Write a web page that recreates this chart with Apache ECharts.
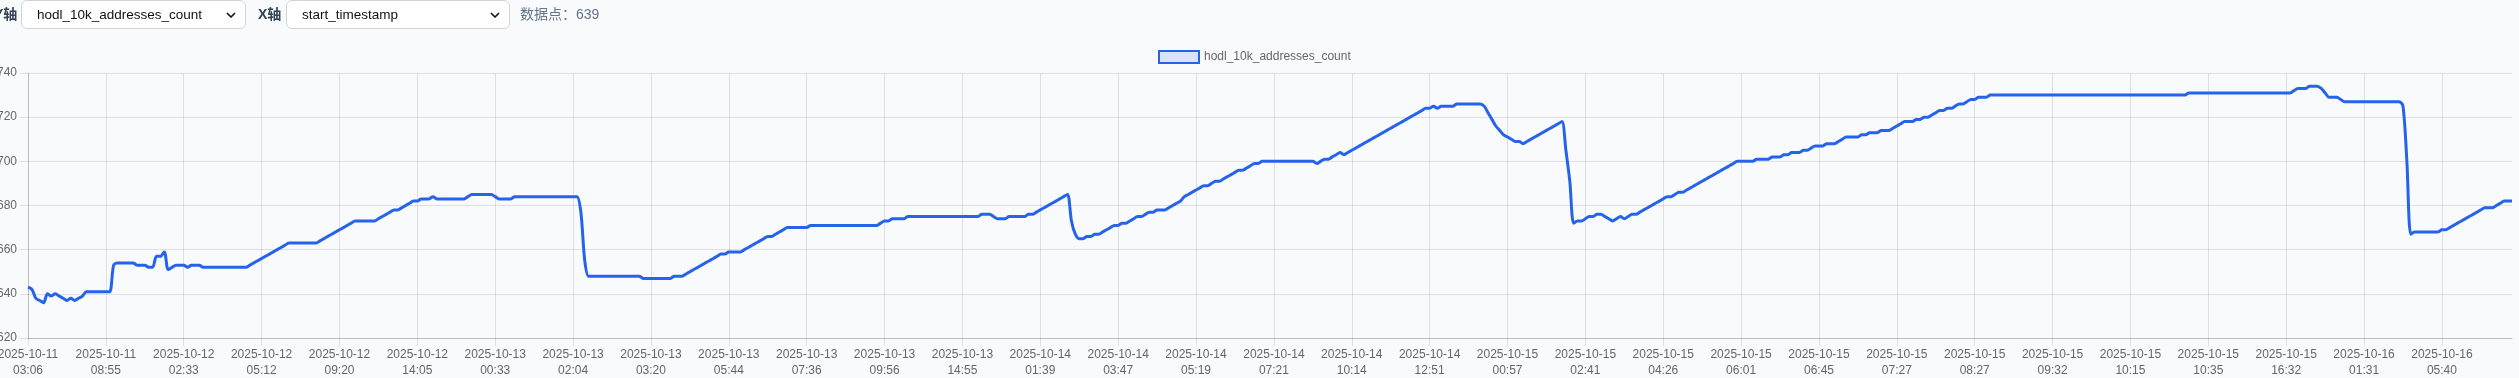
<!DOCTYPE html>
<html><head><meta charset="utf-8">
<script src="https://cdn.jsdelivr.net/npm/echarts@6/dist/echarts.min.js"></script>
<style>
html,body{margin:0;padding:0;background:#f8fafc;width:2519px;height:378px;overflow:hidden;font-family:"Liberation Sans",Arial,"Noto Sans CJK SC",sans-serif;}
#chart{position:absolute;left:0;top:0;width:2519px;height:378px;}
.lbl{position:absolute;z-index:2;font-size:14px;font-weight:600;color:#334155;line-height:29px;top:0;font-family:"Liberation Sans",Arial,"Noto Sans CJK SC",sans-serif;}
.info{position:absolute;z-index:2;font-size:14px;color:#64748b;line-height:29px;top:0;font-family:"Liberation Sans",Arial,"Noto Sans CJK SC",sans-serif;}
select{position:absolute;z-index:2;top:0;height:29px;box-sizing:border-box;border:1px solid #d1d5db;border-radius:6px;background:#fff url("data:image/svg+xml;utf8,<svg xmlns='http://www.w3.org/2000/svg' width='10' height='6' viewBox='0 0 10 6'><path d='M1 1l4 4 4-4' fill='none' stroke='%23111' stroke-width='1.6'/></svg>") no-repeat right 9px center;-webkit-appearance:none;appearance:none;font-size:13.5px;color:#111;padding:0 0 0 15px;font-family:"Liberation Sans",Arial,sans-serif;}
</style></head>
<body>
<div class="lbl" style="left:-6px">Y轴</div>
<select style="left:21px;width:225px"><option>hodl_10k_addresses_count</option></select>
<div class="lbl" style="left:258px">X轴</div>
<select style="left:286px;width:224px"><option>start_timestamp</option></select>
<div class="info" style="left:520px">数据点：639</div>
<div id="chart"></div>
<script>
const seriesName = 'hodl_10k_addresses_count';
const yTicks = { min: 620, max: 740, step: 20 };
const tickLabels = [
'2025-10-11\n03:06','2025-10-11\n08:55','2025-10-12\n02:33','2025-10-12\n05:12','2025-10-12\n09:20','2025-10-12\n14:05',
'2025-10-13\n00:33','2025-10-13\n02:04','2025-10-13\n03:20','2025-10-13\n05:44','2025-10-13\n07:36','2025-10-13\n09:56',
'2025-10-13\n14:55','2025-10-14\n01:39','2025-10-14\n03:47','2025-10-14\n05:19','2025-10-14\n07:21','2025-10-14\n10:14',
'2025-10-14\n12:51','2025-10-15\n00:57','2025-10-15\n02:41','2025-10-15\n04:26','2025-10-15\n06:01','2025-10-15\n06:45',
'2025-10-15\n07:27','2025-10-15\n08:27','2025-10-15\n09:32','2025-10-15\n10:15','2025-10-15\n10:35','2025-10-15\n16:32',
'2025-10-16\n01:31','2025-10-16\n05:40'
];
const values = [
643,642,638,637,636,640,639,640,639,638,637,638,637,638,639,641,641,641,641,641,
641,641,653,654,654,654,654,654,653,653,653,652,652,657,657,659,651,652,653,653,
653,652,653,653,653,652,652,652,652,652,652,652,652,652,652,652,652,653,654,655,
656,657,658,659,660,661,662,663,663,663,663,663,663,663,663,664,665,666,667,668,
669,670,671,672,673,673,673,673,673,673,674,675,676,677,678,678,679,680,681,682,
682,683,683,683,684,683,683,683,683,683,683,683,683,684,685,685,685,685,685,685,
684,683,683,683,683,684,684,684,684,684,684,684,684,684,684,684,684,684,684,684,
684,684,677,655,648,648,648,648,648,648,648,648,648,648,648,648,648,648,647,647,
647,647,647,647,647,647,648,648,648,649,650,651,652,653,654,655,656,657,658,658,
659,659,659,659,660,661,662,663,664,665,666,666,667,668,669,670,670,670,670,670,
670,671,671,671,671,671,671,671,671,671,671,671,671,671,671,671,671,671,671,672,
673,673,674,674,674,674,675,675,675,675,675,675,675,675,675,675,675,675,675,675,
675,675,675,675,675,676,676,676,675,674,674,674,675,675,675,675,675,676,676,677,
678,679,680,681,682,683,684,685,673,667,665,665,666,666,667,667,668,669,670,671,
671,672,672,673,674,675,675,676,677,677,678,678,678,679,680,681,682,684,685,686,
687,688,689,689,690,691,691,692,693,694,695,696,696,697,698,699,699,700,700,700,
700,700,700,700,700,700,700,700,700,700,700,699,700,701,701,702,703,704,703,704,
705,706,707,708,709,710,711,712,713,714,715,716,717,718,719,720,721,722,723,724,
724,725,724,725,725,725,725,726,726,726,726,726,726,726,725,722,719,716,714,712,
711,710,709,709,708,709,710,711,712,713,714,715,716,717,718,705,691,672,673,673,
674,675,675,676,676,675,674,673,674,675,674,675,676,676,677,678,679,680,681,682,
683,684,684,685,686,686,687,688,689,690,691,692,693,694,695,696,697,698,699,700,
700,700,700,700,701,701,701,701,702,702,702,703,703,704,704,704,705,705,706,707,
707,707,708,708,708,709,710,711,711,711,711,712,712,713,713,713,714,714,714,715,
716,717,718,718,718,719,719,720,720,721,722,723,723,724,724,725,726,726,727,728,
728,729,729,729,730,730,730,730,730,730,730,730,730,730,730,730,730,730,730,730,
730,730,730,730,730,730,730,730,730,730,730,730,730,730,730,730,730,730,730,730,
730,730,730,730,730,730,730,730,730,730,730,730,730,730,730,731,731,731,731,731,
731,731,731,731,731,731,731,731,731,731,731,731,731,731,731,731,731,731,731,731,
731,731,732,733,733,733,734,734,734,733,731,729,729,729,728,727,727,727,727,727,
727,727,727,727,727,727,727,727,727,727,725,700,667,668,668,668,668,668,668,668,
669,669,670,671,672,673,674,675,676,677,678,679,679,679,680,681,682,682,682
];
const labelEvery = 20;
const categories = values.map((_, i) => (i % labelEvery === 0 ? tickLabels[i / labelEvery] : ''));

const gridColor = 'rgba(0,0,0,0.1)';
const chart = echarts.init(document.getElementById('chart'), null, { renderer: 'canvas' });
chart.setOption({
  animation: false,
  backgroundColor: 'transparent',
  textStyle: { fontFamily: '"Liberation Sans", Arial, sans-serif' },
  legend: {
    show: true, left: 1158, top: 50, padding: 0,
    icon: 'rect', itemWidth: 40, itemHeight: 12,
    itemStyle: { color: 'rgba(37,99,235,0.15)', borderColor: '#2563eb', borderWidth: 2 },
    textStyle: { color: '#666', fontSize: 12, fontFamily: '"Liberation Sans", Arial, sans-serif' },
    data: [seriesName]
  },
  grid: { left: 28, right: 7, top: 73, bottom: 40, containLabel: false, outerBoundsMode: 'none' },
  xAxis: {
    type: 'category', boundaryGap: false, data: categories,
    axisLine: { show: true, lineStyle: { color: 'rgba(0,0,0,0.16)', width: 1 } },
    axisTick: { show: true, interval: labelEvery - 1, length: 8, lineStyle: { color: gridColor } },
    axisLabel: { interval: labelEvery - 1, color: '#666', fontSize: 12, lineHeight: 16, margin: 9, hideOverlap: false,
      fontFamily: '"Liberation Sans", Arial, sans-serif' },
    splitLine: { show: true, interval: labelEvery - 1, lineStyle: { color: gridColor, width: 1 } }
  },
  yAxis: {
    type: 'value', min: yTicks.min, max: yTicks.max, interval: yTicks.step,
    axisLine: { show: true, lineStyle: { color: 'rgba(0,0,0,0.16)', width: 1 } },
    axisTick: { show: true, length: 8, lineStyle: { color: gridColor } },
    axisLabel: { color: '#666', fontSize: 12, margin: 11, fontFamily: '"Liberation Sans", Arial, sans-serif' },
    splitLine: { show: true, lineStyle: { color: gridColor, width: 1 } }
  },
  series: [{
    name: seriesName, type: 'line', data: values,
    smooth: 0.3, showSymbol: false, symbol: 'none',
    lineStyle: { color: '#2563eb', width: 3 },
    itemStyle: { color: 'rgba(37,99,235,0.15)', borderColor: '#2563eb', borderWidth: 2 }
  }]
});
</script>
</body></html>
